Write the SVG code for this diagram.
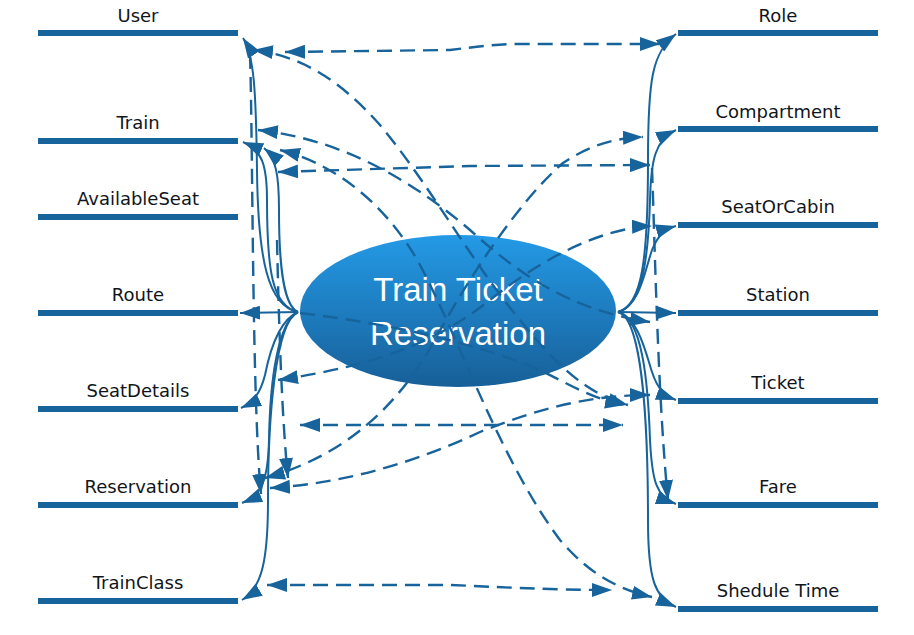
<svg xmlns="http://www.w3.org/2000/svg" width="914" height="635" viewBox="0 0 914 635">
<defs>
<linearGradient id="eg" x1="0" y1="0" x2="0" y2="1">
<stop offset="0" stop-color="#249ae6"/>
<stop offset="1" stop-color="#175f98"/>
</linearGradient>
<marker id="ah" viewBox="0 0 20 14" refX="20" refY="7" markerWidth="20" markerHeight="14" markerUnits="userSpaceOnUse" orient="auto-start-reverse">
<path d="M0,0 L20,7 L0,14 z" fill="#17639b"/>
</marker>
<style>
.bar{stroke:#17639b;stroke-width:6;fill:none}
.lbl{font-family:"DejaVu Sans",sans-serif;font-size:18px;fill:#10151c;text-anchor:middle}
.title{font-family:"Liberation Sans",Arial,sans-serif;font-size:33px;fill:#ffffff;text-anchor:middle}
.s{stroke:#17639b;stroke-width:2;fill:none;marker-end:url(#ah)}
.d{stroke:#17639b;stroke-width:2.4;fill:none;stroke-dasharray:15 8;marker-end:url(#ah)}
.b{marker-start:url(#ah)}
</style>
</defs>
<rect width="914" height="635" fill="#ffffff"/>
<g id="center">
<ellipse cx="458" cy="311" rx="158" ry="76" fill="url(#eg)"/>
<text class="title" x="458" y="301">Train Ticket</text>
<text class="title" x="458" y="345">Reservation</text>
</g>
<g id="user"><line class="bar" x1="38" y1="33" x2="238" y2="33"/><text class="lbl" x="138" y="22">User</text></g>
<g id="train"><line class="bar" x1="38" y1="141" x2="238" y2="141"/><text class="lbl" x="138" y="129">Train</text></g>
<g id="availableseat"><line class="bar" x1="38" y1="217" x2="238" y2="217"/><text class="lbl" x="138" y="205">AvailableSeat</text></g>
<g id="route"><line class="bar" x1="38" y1="313" x2="238" y2="313"/><text class="lbl" x="138" y="301">Route</text></g>
<g id="seatdetails"><line class="bar" x1="38" y1="409" x2="238" y2="409"/><text class="lbl" x="138" y="397">SeatDetails</text></g>
<g id="reservation"><line class="bar" x1="38" y1="505" x2="238" y2="505"/><text class="lbl" x="138" y="493">Reservation</text></g>
<g id="trainclass"><line class="bar" x1="38" y1="601" x2="238" y2="601"/><text class="lbl" x="138" y="589">TrainClass</text></g>
<g id="role"><line class="bar" x1="678" y1="33" x2="878" y2="33"/><text class="lbl" x="778" y="22">Role</text></g>
<g id="compartment"><line class="bar" x1="678" y1="129" x2="878" y2="129"/><text class="lbl" x="778" y="118">Compartment</text></g>
<g id="seatorcabin"><line class="bar" x1="678" y1="225" x2="878" y2="225"/><text class="lbl" x="778" y="213">SeatOrCabin</text></g>
<g id="station"><line class="bar" x1="678" y1="313" x2="878" y2="313"/><text class="lbl" x="778" y="301">Station</text></g>
<g id="ticket"><line class="bar" x1="678" y1="401" x2="878" y2="401"/><text class="lbl" x="778" y="389">Ticket</text></g>
<g id="fare"><line class="bar" x1="678" y1="505" x2="878" y2="505"/><text class="lbl" x="778" y="493">Fare</text></g>
<g id="sheduletime"><line class="bar" x1="678" y1="609" x2="878" y2="609"/><text class="lbl" x="778" y="597">Shedule Time</text></g>
<g id="connectors">
<path class="s" d="M298,312 C268,306 258,260 257,170 C256,90 254,55 243,38"/>
<path class="s" d="M298,312 C272,306 267,270 267,200 C267,165 262,150 243,142"/>
<path class="s" d="M298,312 C284,306 279,270 279,210 C279,175 276,158 264,148"/>
<path class="s" d="M298,312 L240,313"/>
<path class="s" d="M298,312 C280,320 270,350 265,375 C260,395 252,403 241,408"/>
<path class="s" d="M298,312 C278,322 270,380 269,440 C268,480 262,495 242,503"/>
<path class="s" d="M298,312 C275,322 268,420 268,500 C268,560 262,588 242,600"/>
<path class="s" d="M618,312 C642,306 648,260 648,160 C648,80 652,52 676,34"/>
<path class="s" d="M618,312 C640,306 648,270 650,200 C651,160 655,140 676,130"/>
<path class="s" d="M618,312 C640,306 645,270 652,250 C658,235 665,229 676,226"/>
<path class="s" d="M618,312 L676,313"/>
<path class="s" d="M618,312 C638,318 645,350 652,372 C658,390 665,396 676,400"/>
<path class="s" d="M618,312 C642,318 648,380 650,440 C652,480 656,497 676,504"/>
<path class="s" d="M618,312 C644,318 648,440 648,520 C648,580 655,598 676,607"/>
<path class="d b" d="M285,52 L450,50 C475,47 495,44 520,44 L660,44"/>
<path class="d b" d="M253,50 C300,55 340,80 380,125 C430,185 470,260 520,320 C560,370 590,395 628,405"/>
<path class="d b" d="M258,130 C330,138 400,170 470,230 C520,275 570,310 650,322"/>
<path class="d b" d="M280,150 C340,165 390,210 420,265 C460,340 500,460 560,540 C590,575 620,590 652,597"/>
<path class="d b" d="M278,172 L470,166 L650,165"/>
<path class="d b" d="M265,478 C330,460 390,420 433,343 C470,275 520,200 563,163 C590,145 615,138 643,137"/>
<path class="d b" d="M278,380 C380,365 440,340 490,300 C540,260 600,228 652,226"/>
<path class="d b" d="M300,425 L623,425"/>
<path class="d b" d="M270,488 C350,483 420,460 480,432 C540,408 590,395 650,395"/>
<path class="d" d="M300,313 C400,325 480,345 540,370 C570,385 595,400 625,405"/>
<path class="d b" d="M267,585 L450,585 C500,587 550,590 612,590"/>
<path class="d" d="M250,54 C253,150 252,400 261,494"/>
<path class="d" d="M277,240 C279,330 282,420 288,478"/>
<path class="d" d="M652,168 C655,250 658,400 668,500"/>
</g>
</svg>
